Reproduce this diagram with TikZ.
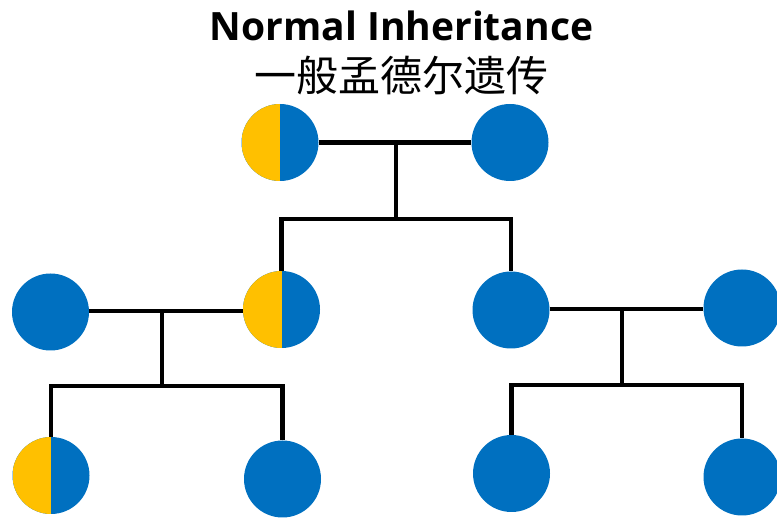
\documentclass[tikz,border=0pt]{standalone}
\usepackage{fontspec}
\setmainfont{Open Sans}
\newfontfamily\cjk{Noto Sans CJK SC}
\usetikzlibrary{calc}
\definecolor{ublue}{HTML}{0070C0}
\definecolor{uyellow}{HTML}{FFC000}
\begin{document}
\begin{tikzpicture}[x=1pt,y=-1pt,
  person/.style={circle, minimum size=77pt, inner sep=0pt, fill=ublue},
  carrier/.style={person, path picture={\fill[uyellow] (path picture bounding box.south west) rectangle (path picture bounding box.north);}},
  link/.style={line width=4.5pt, draw=black}]
\useasboundingbox (0,0) rectangle (777,518);
\node[font=\bfseries\fontsize{39}{42}\selectfont] (title) at (401.5,26) {Normal Inheritance};
\node[font=\cjk\fontsize{42}{45}\selectfont] (sub) at (401.5,76) {一般孟德尔遗传};
% generation 1
\node[carrier] (p1) at (280,142.5) {};
\node[person] (p2) at (510,142.5) {};
% generation 2
\node[person] (g1) at (50.5,312) {};
\node[carrier] (c1) at (281.5,309.5) {};
\node[person] (c2) at (511,310) {};
\node[person] (g4) at (742,308) {};
% generation 3
\node[carrier] (k1) at (51,475.5) {};
\node[person] (k2) at (282.5,479) {};
\node[person] (k3) at (511.5,473.5) {};
\node[person] (k4) at (742,477) {};
% coordinates
\coordinate (m1) at (396,142.5);
\coordinate (b1) at (396,219);
\coordinate (m2) at (162,311);
\coordinate (b2) at (162,386);
\coordinate (m3) at (622,309);
\coordinate (b3) at (622,385);
% links
\draw[link] (p1.east) -- (p2.west);
\draw[link] (m1) -- (b1);
\draw[link] (c1.north) |- (b1) -| (c2.north);
\draw[link] (g1.east |- m2) -- (c1.west |- m2);
\draw[link] (m2) -- (b2);
\draw[link] (k1.north) |- (b2) -| (k2.north);
\draw[link] (c2.east |- m3) -- (g4.west |- m3);
\draw[link] (m3) -- (b3);
\draw[link] (k3.north) |- (b3) -| (k4.north);
\end{tikzpicture}
\end{document}
